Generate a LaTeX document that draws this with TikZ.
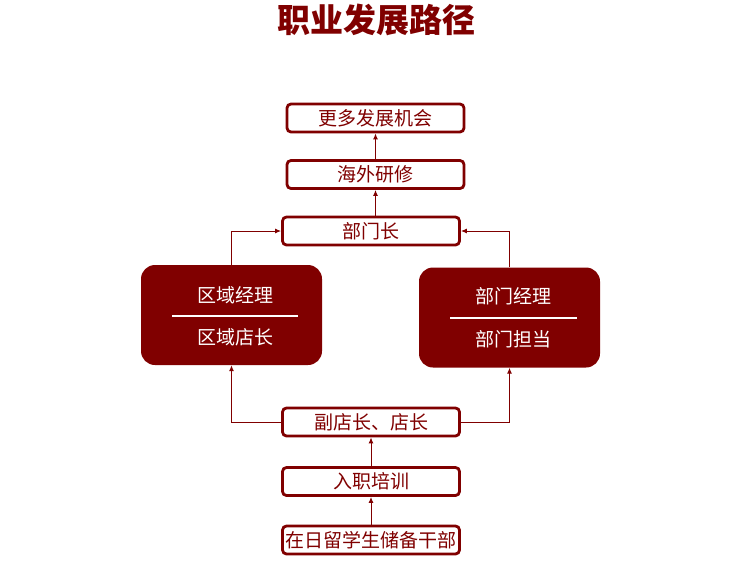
\documentclass[tikz,border=0pt]{standalone}
\usepackage{fontspec}
\usepackage{tikz}
\usetikzlibrary{arrows.meta}
\setmainfont{Noto Sans CJK SC}
\definecolor{pathred}{RGB}{128, 0, 0}

\begin{document}
\begin{tikzpicture}[x=1pt, y=-1pt,
		stage/.style={draw=pathred, line width=2.8pt, fill=white, rounded corners=4pt,
			minimum width=177pt, minimum height=28pt, inner sep=0pt,
			text=pathred, font=\fontsize{19}{21}\selectfont},
		branch/.style={fill=pathred, rounded corners=14pt, minimum width=181pt,
			minimum height=100pt, inner sep=0pt},
		branchtext/.style={text=white, inner sep=0pt, font=\fontsize{19}{21}\selectfont},
		link/.style={draw=pathred, line width=1pt, -{Latex[length=6pt,width=5pt]}}]
			\useasboundingbox (0, 0) rectangle (750, 566);
			% title
			\node [text=pathred, font=\bfseries\fontsize{33}{36}\selectfont] (title) at (376, 20) {职业发展路径};
			% main column
			\node [stage] (more) at (375.5, 118) {更多发展机会};
			\node [stage] (abroad) at (375.5, 174.5) {海外研修};
			\node [stage] (head) at (371, 231) {部门长};
			\node [stage] (store) at (371, 422) {副店长、店长};
			\node [stage] (train) at (371, 481.5) {入职培训};
			\node [stage] (cadre) at (371, 540) {在日留学生储备干部};
			% two branches
			\node [branch] (area) at (231.5, 315) {};
			\node [branchtext] (areatop) at (235, 295) {区域经理};
			\node [branchtext] (areabot) at (235, 337) {区域店长};
			\draw [white, line width=1.5pt] (172, 316) -- (298, 316);
			\node [branch] (dept) at (509.5, 317.5) {};
			\node [branchtext] (depttop) at (513, 296) {部门经理};
			\node [branchtext] (deptbot) at (513, 339) {部门担当};
			\draw [white, line width=1.5pt] (450, 318) -- (577, 318);
			% connectors
			\draw [link] (cadre) -- (train);
			\draw [link] (train) -- (store);
			\draw [link] (store.west) -| (area.south);
			\draw [link] (store.east) -| (dept.south);
			\draw [link] (area.north) |- (head.west);
			\draw [link] (dept.north) |- (head.east);
			\draw [link] (head.north -| abroad.south) -- (abroad.south);
			\draw [link] (abroad) -- (more);
		\end{tikzpicture}
\end{document}
